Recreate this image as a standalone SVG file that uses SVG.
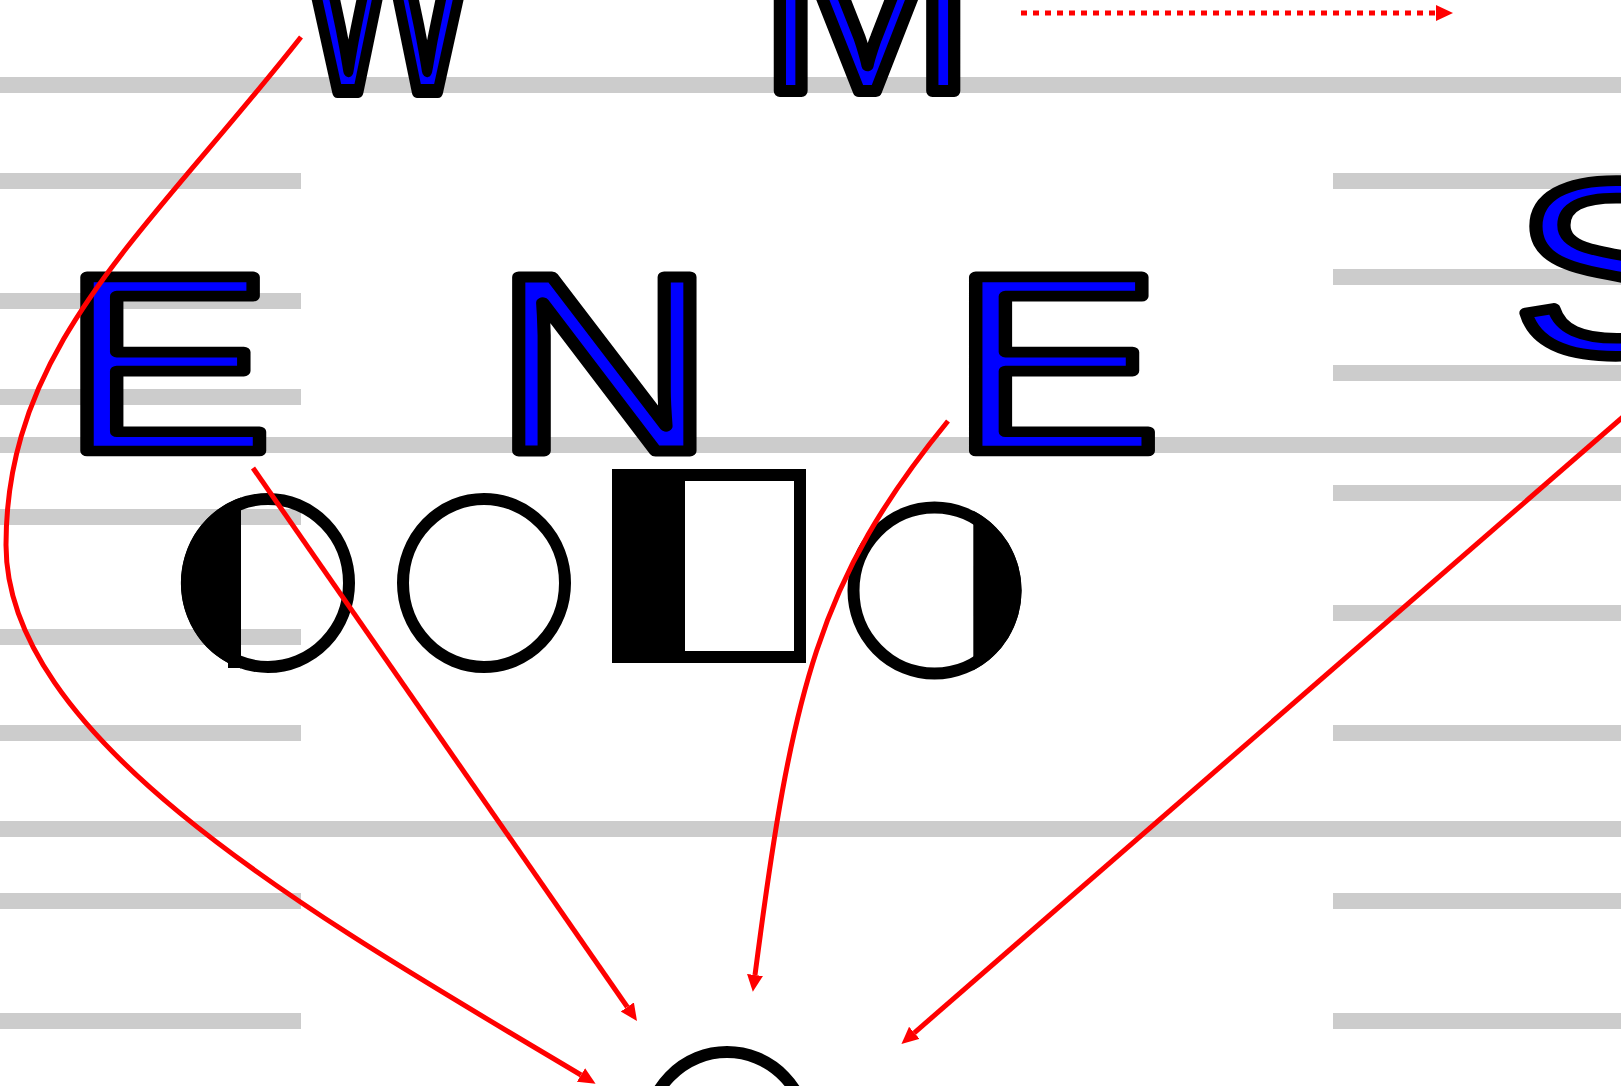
<svg xmlns="http://www.w3.org/2000/svg" width="1621" height="1086" viewBox="0 0 1621 1086">
<defs>
<style>
.bar{fill:#cccccc}
.ltr{font-family:"Liberation Sans",Arial,sans-serif;font-size:253px;fill:#0000ff;stroke:#000;stroke-width:11;stroke-linejoin:round}
.ring{fill:none;stroke:#000;stroke-width:12}
.blk{fill:#000;stroke:none}
.con{fill:none;stroke:#ff0000;stroke-width:5}
</style>
<marker id="ah" markerUnits="userSpaceOnUse" markerWidth="20" markerHeight="20" refX="0" refY="8" orient="auto">
<path d="M0,0 L17,8 L0,16 Z" fill="#ff0000"/>
</marker>
</defs>
<rect width="1621" height="1086" fill="#ffffff"/>
<g id="bars">
<rect class="bar" x="0" y="77" width="1621" height="16"/>
<rect class="bar" x="0" y="437" width="1621" height="16"/>
<rect class="bar" x="0" y="821" width="1621" height="16"/>
<rect class="bar" x="0" y="173" width="301" height="16"/>
<rect class="bar" x="0" y="293" width="301" height="16"/>
<rect class="bar" x="0" y="389" width="301" height="16"/>
<rect class="bar" x="0" y="509" width="301" height="16"/>
<rect class="bar" x="0" y="629" width="301" height="16"/>
<rect class="bar" x="0" y="725" width="301" height="16"/>
<rect class="bar" x="0" y="893" width="301" height="16"/>
<rect class="bar" x="0" y="1013" width="301" height="16"/>
<rect class="bar" x="1333" y="173" width="288" height="16"/>
<rect class="bar" x="1333" y="269" width="288" height="16"/>
<rect class="bar" x="1333" y="365" width="288" height="16"/>
<rect class="bar" x="1333" y="485" width="288" height="16"/>
<rect class="bar" x="1333" y="605" width="288" height="16"/>
<rect class="bar" x="1333" y="725" width="288" height="16"/>
<rect class="bar" x="1333" y="893" width="288" height="16"/>
<rect class="bar" x="1333" y="1013" width="288" height="16"/>
</g>
<g id="node-W"><text class="ltr" style="stroke-width:13.9" transform="translate(298,91) scale(0.75,1)">W</text></g>
<g id="node-M"><text class="ltr" style="stroke-width:11.9" transform="translate(758.5,91) scale(1.03,1)">M</text></g>
<g id="node-E1"><text class="ltr" style="stroke-width:10.7" transform="translate(60.9,451) scale(1.258,1)">E</text></g>
<g id="node-N"><text class="ltr" style="stroke-width:10.9" transform="translate(493.6,451) scale(1.2114,1)">N</text></g>
<g id="node-E2"><text class="ltr" style="stroke-width:10.7" transform="translate(949.6,451) scale(1.258,1)">E</text></g>
<g id="node-S"><text class="ltr" style="stroke-width:10.9" transform="translate(1512,353.9) scale(1.218,0.981)">S</text></g>
<g id="node-c1">
<path class="blk" d="M241,497.4 A87,90 0 0 0 241,668.6 Z"/>
<rect class="blk" x="228" y="656" width="13" height="12"/>
<ellipse class="ring" cx="268" cy="583" rx="81" ry="84"/>
</g>
<g id="node-c2"><ellipse class="ring" cx="484" cy="583" rx="81" ry="84"/></g>
<g id="node-r">
<rect class="blk" x="612" y="469" width="73" height="194"/>
<rect class="ring" x="618" y="475" width="182" height="182"/>
</g>
<g id="node-c4">
<path class="blk" d="M973.3,510.8 A87,89 0 0 1 973.3,670.2 Z"/>
<ellipse class="ring" cx="934.5" cy="590.5" rx="81" ry="83"/>
</g>
<g id="node-c5"><ellipse class="ring" cx="727" cy="1136" rx="81" ry="84"/></g>
<g id="connectors">
<path class="con" d="M1021,13 L1436,13" stroke-dasharray="6 6" stroke-width="6" marker-end="url(#ah)"/>
<path class="con" d="M301,37 C146,234 6,345 6,545 C6,745 330,925 581,1075" marker-end="url(#ah)"/>
<path class="con" d="M253,468 L627.3,1007" marker-end="url(#ah)"/>
<path class="con" d="M948,421 C818,580 792,690 755,975" marker-end="url(#ah)"/>
<path class="con" d="M1636,405.6 L914.3,1032.8" marker-end="url(#ah)"/>
</g>
</svg>
